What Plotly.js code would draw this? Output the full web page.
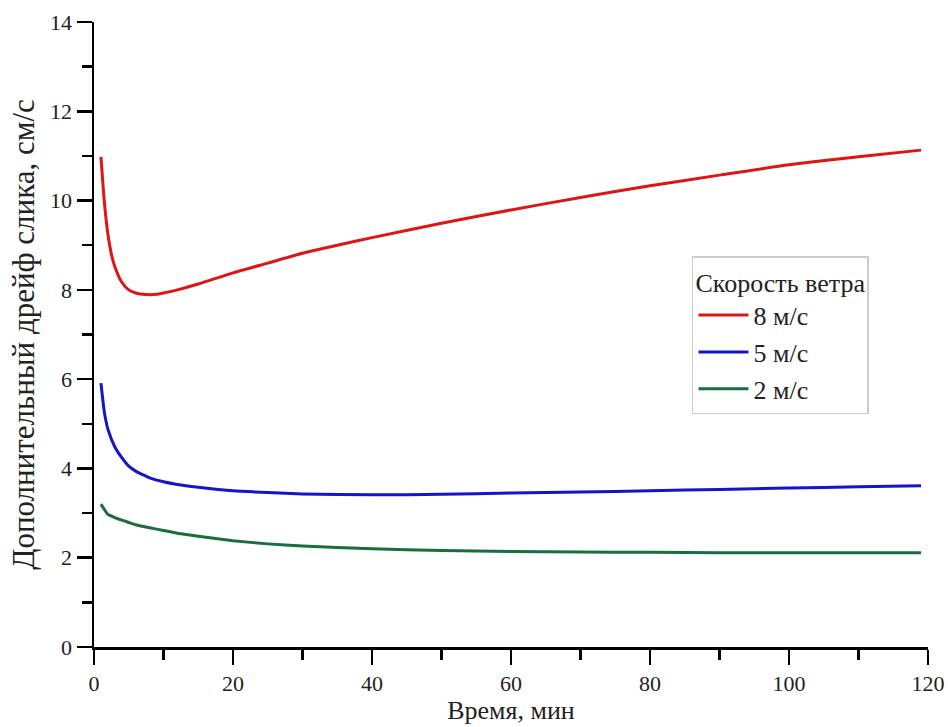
<!DOCTYPE html>
<html>
<head>
<meta charset="utf-8">
<script src="https://cdn.plot.ly/plotly-3.0.1.min.js"></script>
<style>html,body{margin:0;padding:0;background:#fff;}#chart{width:948px;height:727px;}</style>
</head>
<body>
<div id="chart"></div>
<script>
const xTitle = 'Время, мин';
const yTitle = 'Дополнительный дрейф слика, см/с';
const legendTitle = 'Скорость ветра';
const seriesNames = ['8 м/с', '5 м/с', '2 м/с'];

const xRed = [1, 1.5, 2, 2.5, 3, 4, 5, 6, 7, 8, 9, 10, 12, 15, 20, 25, 30, 35, 40, 50, 60, 70, 80, 90, 100, 110, 119];
const yRed = [10.98, 9.95, 9.25, 8.8, 8.52, 8.17, 8.0, 7.93, 7.9, 7.89, 7.9, 7.93, 8.0, 8.13, 8.38, 8.6, 8.82, 9.0, 9.17, 9.49, 9.79, 10.07, 10.33, 10.57, 10.8, 10.98, 11.13];

const xBlue = [1, 1.5, 2, 3, 4, 5, 6, 7, 8, 10, 12, 15, 20, 25, 30, 40, 50, 60, 70, 80, 90, 100, 110, 119];
const yBlue = [5.91, 5.25, 4.88, 4.48, 4.24, 4.05, 3.94, 3.86, 3.79, 3.7, 3.64, 3.58, 3.5, 3.46, 3.43, 3.41, 3.42, 3.45, 3.47, 3.5, 3.53, 3.56, 3.59, 3.61];

const xGreen = [1, 2, 3, 4, 5, 6, 8, 10, 12, 15, 20, 25, 30, 40, 50, 60, 70, 80, 90, 100, 110, 119];
const yGreen = [3.2, 2.97, 2.9, 2.84, 2.79, 2.74, 2.67, 2.61, 2.55, 2.48, 2.38, 2.31, 2.26, 2.2, 2.16, 2.14, 2.13, 2.12, 2.11, 2.11, 2.11, 2.11];

const lineColors = ['#dd1515', '#1414c8', '#1a6e3e'];
const FF = 'Liberation Serif';

const traces = [
  {x: xRed, y: yRed, name: seriesNames[0], mode: 'lines', line: {color: lineColors[0], width: 3, shape: 'spline', smoothing: 0.6}},
  {x: xBlue, y: yBlue, name: seriesNames[1], mode: 'lines', line: {color: lineColors[1], width: 3, shape: 'spline', smoothing: 0.6}},
  {x: xGreen, y: yGreen, name: seriesNames[2], mode: 'lines', line: {color: lineColors[2], width: 3, shape: 'spline', smoothing: 0.4}}
];

function makeAxis(extra) {
  const base = {
    showgrid: false, zeroline: false, showline: true, linecolor: '#000', linewidth: 2.5,
    ticks: 'outside', ticklen: 15, tickwidth: 2.5, tickcolor: '#000',
    tickfont: {family: FF, size: 22, color: '#222'}
  };
  return Object.assign(base, extra);
}

const layout = {
  width: 948, height: 727,
  margin: {l: 94, r: 20, t: 22, b: 80},
  paper_bgcolor: '#fff', plot_bgcolor: '#fff',
  font: {family: FF, color: '#222'},
  showlegend: true,
  xaxis: makeAxis({
    range: [0, 120], tickmode: 'linear', tick0: 0, dtick: 20,
    minor: {ticks: 'outside', ticklen: 10, tickwidth: 2.5, tickcolor: '#000', showgrid: false, dtick: 10},
    title: {text: xTitle, font: {family: FF, size: 26, color: '#222'}, standoff: 2}
  }),
  yaxis: makeAxis({
    range: [0, 14], tickmode: 'linear', tick0: 0, dtick: 2,
    minor: {ticks: 'outside', ticklen: 10, tickwidth: 2.5, tickcolor: '#000', showgrid: false, dtick: 1},
    title: {text: yTitle, font: {family: FF, size: 31, color: '#222'}, standoff: 6}
  }),
  legend: {
    x: 0.717, y: 0.625, xanchor: 'left', yanchor: 'top',
    bgcolor: '#fff', bordercolor: '#cccccc', borderwidth: 1.5,
    font: {family: FF, size: 26, color: '#222'},
    title: {text: legendTitle, font: {family: FF, size: 26, color: '#222'}},
    itemwidth: 50, tracegroupgap: 0
  }
};

Plotly.newPlot('chart', traces, layout, {displayModeBar: false, staticPlot: true});
</script>
</body>
</html>
